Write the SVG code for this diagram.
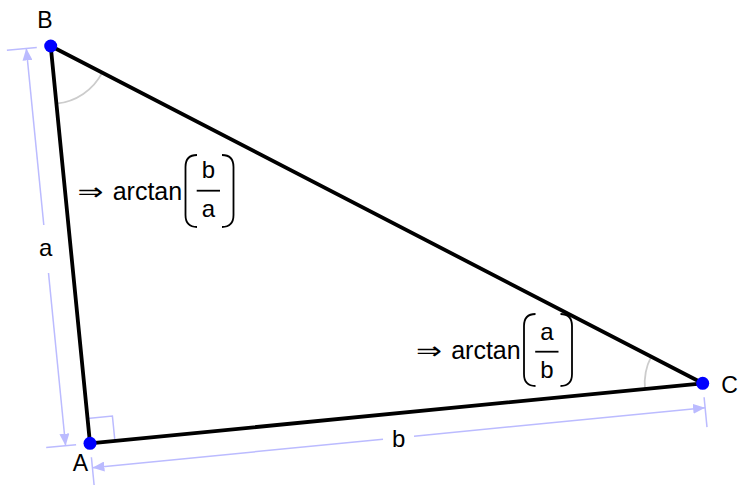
<svg xmlns="http://www.w3.org/2000/svg" width="741" height="485" viewBox="0 0 741 485">
<defs>
<style>
text{font-family:"Liberation Sans",Arial,sans-serif;fill:#000}
.vlab{font-size:23px}
.slab{font-size:24px;text-anchor:middle}
.expr{font-size:25px}
.frac{font-size:24px;text-anchor:middle}
.arrow{font-family:"DejaVu Sans","Liberation Sans",sans-serif;font-size:24px}
.dim{stroke:#bbbbff;stroke-width:1.5;fill:none}
.ang{stroke:#cccccc;stroke-width:1.8;fill:none}
.edge{stroke:#000;stroke-width:3.8;stroke-linecap:round;fill:none}
.pt{fill:#0000ff}
.par{stroke:#000;stroke-width:1.8;fill:none}
</style>
<marker id="ah" viewBox="0 0 12 10" refX="12" refY="5" markerWidth="12" markerHeight="10" markerUnits="userSpaceOnUse" orient="auto">
<path d="M0,0 L12,5 L0,10 Z" fill="#bbbbff"/>
</marker>
</defs>
<g id="connectors">
<g id="angle-marks">
<path class="ang" d="M56.4,103.7 A58,58 0 0 0 102.2,72.7"/>
<path class="ang" d="M645,389 A58,58 0 0 1 651.2,356.6"/>
<polyline class="dim" points="87.5,418.4 112.4,416 114.9,440.9"/>
</g>
<g id="dim-a">
<line class="dim" x1="36.8" y1="47.4" x2="6.9" y2="50.3"/>
<line class="dim" x1="76.1" y1="444.7" x2="46.2" y2="447.6"/>
<line class="dim" x1="43.8" y1="225" x2="26.3" y2="48.4" marker-end="url(#ah)"/>
<line class="dim" x1="48.5" y1="273" x2="65.6" y2="445.7" marker-end="url(#ah)"/>
</g>
<g id="dim-b">
<line class="dim" x1="91.4" y1="457.2" x2="94.3" y2="487.1"/>
<line class="dim" x1="704.1" y1="397.2" x2="707" y2="427.1"/>
<line class="dim" x1="383" y1="439.2" x2="92.4" y2="467.7" marker-end="url(#ah)"/>
<line class="dim" x1="414" y1="436.2" x2="705.1" y2="407.7" marker-end="url(#ah)"/>
</g>
<g id="edges">
<line class="edge" x1="50.7" y1="46" x2="90" y2="443.3"/>
<line class="edge" x1="90" y1="443.3" x2="702.7" y2="383.3"/>
<line class="edge" x1="702.7" y1="383.3" x2="50.7" y2="46"/>
</g>
</g>
<g id="label-a"><text class="slab" x="45.7" y="256">a</text></g>
<g id="label-b"><text class="slab" x="398.7" y="446.7">b</text></g>
<g id="node-B">
<circle class="pt" cx="50.7" cy="46" r="6.5"/>
<text class="vlab" x="45" y="27.7" text-anchor="middle">B</text>
</g>
<g id="node-A">
<circle class="pt" cx="90" cy="443.3" r="6.5"/>
<text class="vlab" x="80.5" y="470.5" text-anchor="middle">A</text>
</g>
<g id="node-C">
<circle class="pt" cx="702.7" cy="383.3" r="6.5"/>
<text class="vlab" x="721.3" y="393">C</text>
</g>
<g id="angle-B-label" transform="translate(78,200)">
<text class="arrow" x="-0.5" y="0" textLength="26" lengthAdjust="spacingAndGlyphs">⇒</text>
<text class="expr" x="34.7" y="0">arctan</text>
<path class="par" d="M119,-45 Q107.5,-45 107.5,-33 L107.5,15 Q107.5,27 119,27"/>
<line x1="118.7" y1="-9.3" x2="142" y2="-9.3" stroke="#000" stroke-width="1.8"/>
<text class="frac" x="130.5" y="-22">b</text>
<text class="frac" x="130.5" y="16.5">a</text>
<path class="par" d="M144,-45 Q155.5,-45 155.5,-33 L155.5,15 Q155.5,27 144,27"/>
</g>
<g id="angle-C-label" transform="translate(416.5,359)">
<text class="arrow" x="-0.5" y="0" textLength="26" lengthAdjust="spacingAndGlyphs">⇒</text>
<text class="expr" x="34.7" y="0">arctan</text>
<path class="par" d="M119,-45 Q107.5,-45 107.5,-33 L107.5,15 Q107.5,27 119,27"/>
<line x1="118.7" y1="-7.3" x2="142" y2="-7.3" stroke="#000" stroke-width="1.8"/>
<text class="frac" x="130.5" y="-19">a</text>
<text class="frac" x="130.5" y="19">b</text>
<path class="par" d="M144,-45 Q155.5,-45 155.5,-33 L155.5,15 Q155.5,27 144,27"/>
</g>
</svg>
